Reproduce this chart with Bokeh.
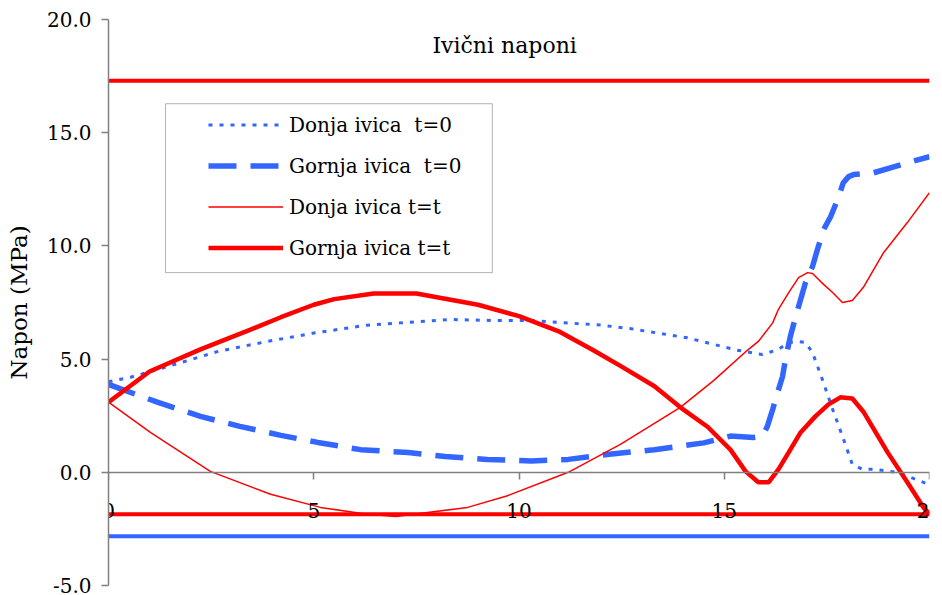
from bokeh.plotting import figure
from bokeh.models import (Range1d, Legend, LegendItem, Label, BoxAnnotation,
                          FixedTicker, PrintfTickFormatter)
from bokeh.embed import file_html
from bokeh.resources import INLINE

FONT = "DejaVu Serif"
BLUE = "#3366FF"
RED = "#FF0000"
AXIS = "#808080"

# ---- data ----
# Donja ivica t=0 (blue dotted)
don_t0_x = [0, 0.54, 1.44, 2.65, 3.87, 5.0, 6.3, 7.1, 8.33, 9.55, 10.35, 12.0, 12.7,
            14.1, 15.3, 15.93, 16.32, 16.57, 16.81, 16.98, 17.15, 17.39, 17.64, 17.88,
            18.12, 18.37, 18.64, 19.22, 20.0]
don_t0_y = [4.0, 4.2, 4.67, 5.33, 5.78, 6.15, 6.5, 6.6, 6.75, 6.7, 6.7, 6.5, 6.35,
            5.94, 5.4, 5.2, 5.43, 5.73, 5.78, 5.73, 5.29, 4.1, 2.78, 1.59,
            0.35, 0.13, 0.13, 0.0, -0.55]

# Gornja ivica t=0 (blue dashed)
gor_t0_x = [0, 1.19, 2.24, 3.2, 4.2, 5.1, 6.14, 7.3, 8.2, 9.23, 10.3, 11.2, 12.2, 13.3,
            14.5, 15.15, 15.71, 15.93, 16.05, 16.18, 16.3, 16.42, 16.49, 16.61, 16.74,
            16.86, 16.98, 17.15, 17.27, 17.42, 17.59, 17.76, 17.9, 18.03, 18.15, 18.64,
            19.46, 20.0]
gor_t0_y = [3.88, 3.1, 2.47, 2.03, 1.63, 1.32, 1.0, 0.87, 0.7, 0.57, 0.5, 0.57, 0.8, 1.0,
            1.3, 1.6, 1.54, 1.59, 2.03, 2.78, 3.53, 4.23, 4.98, 6.0, 6.88,
            7.63, 8.38, 9.09, 9.84, 10.72, 11.29, 12.04, 12.79, 13.06, 13.15, 13.23,
            13.67, 13.94]

# Donja ivica t=t (thin red)
don_tt_x = [0, 1.02, 2.48, 3.95, 5.16, 6.3, 7.0, 8.75, 9.7, 11.2, 12.47, 13.93, 14.74,
            15.57, 15.83, 16.18, 16.32, 16.57, 16.81, 17.03, 17.15, 17.42, 17.64, 17.88,
            18.12, 18.4, 18.64, 18.88, 19.46, 20.0]
don_tt_y = [3.1, 1.76, 0.04, -0.97, -1.55, -1.85, -1.95, -1.55, -1.05, 0.0, 1.23, 2.87, 4.05,
            5.4, 5.78, 6.6, 7.2, 7.94, 8.6, 8.82, 8.78, 8.3, 7.94, 7.5,
            7.59, 8.2, 8.95, 9.7, 11.03, 12.35]

# Gornja ivica t=t (thick red)
gor_tt_x = [0, 1.0, 2.24, 3.46, 4.2, 5.0, 5.5, 6.46, 7.5, 9.0, 10.0, 11.0, 11.8, 12.47,
            13.3, 13.93, 14.6, 15.15, 15.52, 15.83, 16.08, 16.32, 16.57, 16.86, 17.22,
            17.54, 17.83, 18.12, 18.4, 18.98, 19.46, 19.85, 20.0]
gor_tt_y = [3.1, 4.45, 5.43, 6.3, 6.85, 7.4, 7.65, 7.9, 7.9, 7.4, 6.9, 6.2, 5.4, 4.7,
            3.8, 2.87, 2.0, 1.0, 0.04, -0.44, -0.44, 0.13, 0.88, 1.76, 2.47,
            3.0, 3.31, 3.26, 2.65, 0.88, -0.44, -1.54, -1.85]

# limit lines (allowable stresses)
limit_x = [0, 20]
limit_red_top = 17.3
limit_red_bottom = -1.85
limit_blue_bottom = -2.83

x_ticks = [0, 5, 10, 15, 20]
y_ticks = [-5, 0, 5, 10, 15, 20]

labels = ["Donja ivica  t=0", "Gornja ivica  t=0", "Donja ivica t=t", "Gornja ivica t=t"]
title_text = "Ivični naponi"
y_label = "Napon (MPa)"

# ---- figure ----
p = figure(width=942, height=595, x_range=Range1d(0, 20), y_range=Range1d(-5, 20),
           output_backend="svg", toolbar_location=None,
           min_border_left=108, min_border_right=13, min_border_top=19, min_border_bottom=10)
p.grid.visible = False
p.outline_line_color = None
p.background_fill_color = "white"
p.border_fill_color = "white"

# limit lines
p.line(limit_x, [limit_red_top] * 2, line_color=RED, line_width=4)
p.line(limit_x, [limit_red_bottom] * 2, line_color=RED, line_width=4)
p.line(limit_x, [limit_blue_bottom] * 2, line_color=BLUE, line_width=4)

r1 = p.line(don_t0_x, don_t0_y, line_color=BLUE, line_width=3, line_dash="4 7")
r2 = p.line(gor_t0_x, gor_t0_y, line_color=BLUE, line_width=5.5, line_dash="28 14")
r3 = p.line(don_tt_x, don_tt_y, line_color=RED, line_width=1.5)
r4 = p.line(gor_tt_x, gor_tt_y, line_color=RED, line_width=4.5)

# x axis crossing at y = 0
xa = p.xaxis[0]
xa.fixed_location = 0
xa.ticker = FixedTicker(ticks=x_ticks)
xa.minor_tick_line_color = None
xa.major_tick_in = 0
xa.major_tick_out = 7
xa.major_label_standoff = 24
xa.major_label_text_font = FONT
xa.major_label_text_font_size = "20px"
xa.major_label_text_color = "black"
xa.axis_line_color = AXIS
xa.axis_line_width = 1.5
xa.major_tick_line_color = AXIS
xa.major_tick_line_width = 1.5

ya = p.yaxis[0]
ya.ticker = FixedTicker(ticks=y_ticks)
ya.formatter = PrintfTickFormatter(format="%.1f")
ya.minor_tick_line_color = None
ya.major_tick_in = 0
ya.major_tick_out = 7
ya.major_label_standoff = 10
ya.major_label_text_font = FONT
ya.major_label_text_font_size = "20px"
ya.major_label_text_color = "black"
ya.axis_line_color = AXIS
ya.axis_line_width = 1.5
ya.major_tick_line_color = AXIS
ya.major_tick_line_width = 1.5
ya.axis_label = y_label
ya.axis_label_text_font = FONT
ya.axis_label_text_font_size = "23px"
ya.axis_label_text_font_style = "normal"
ya.axis_label_text_color = "black"
ya.axis_label_standoff = 12

# title inside the plot area
p.add_layout(Label(x=9.65, y=18.83, text=title_text, text_align="center",
                   text_baseline="alphabetic", text_font=FONT,
                   text_font_size="22px", text_color="black"))

# legend frame
p.add_layout(BoxAnnotation(left=1.39, right=9.35, top=16.28, bottom=8.82,
                           fill_color="white", fill_alpha=1.0,
                           line_color="black", line_width=1))

legend = Legend(items=[LegendItem(label=labels[0], renderers=[r1]),
                       LegendItem(label=labels[1], renderers=[r2]),
                       LegendItem(label=labels[2], renderers=[r3]),
                       LegendItem(label=labels[3], renderers=[r4])],
                location=(100, 324), padding=0, spacing=14,
                glyph_width=75, glyph_height=27, label_height=27,
                label_standoff=6, label_text_font=FONT,
                label_text_font_size="20px", label_text_color="black",
                border_line_alpha=0, background_fill_alpha=0)
p.add_layout(legend)

open("out.html", "w").write(file_html(p, INLINE))
